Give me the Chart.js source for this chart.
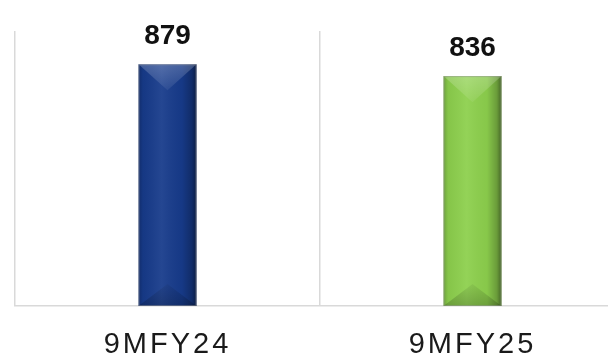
<!DOCTYPE html>
<html lang="en">
<head>
    <meta charset="UTF-8">
    <title>9MFY24 vs 9MFY25</title>
    <script src="https://cdn.jsdelivr.net/npm/chart.js@4.4.1/dist/chart.umd.min.js"></script>
    <style>
        * {
            margin: 0;
            padding: 0;
            box-sizing: border-box;
        }

        html, body {
            width: 608px;
            height: 357px;
            overflow: hidden;
            background: #ffffff;
        }

        /* the plot runs a little past the right edge, like the original slide */
        .chart-wrapper {
            position: relative;
            width: 626px;
            height: 357px;
        }
    </style>
</head>
<body>
    <div class="chart-wrapper">
        <canvas id="periodChart"></canvas>
    </div>

    <script>
        // data
        const periods = ['9MFY24', '9MFY25'];
        const values = [879, 836];
        const barColors = ['#173b8b', '#8dd04d'];

        const axisGrey = '#d9d9d9';

        // bevel shading on top of each bar (lit top, dark bottom, rounded sides)
        const bevelPlugin = {
            id: 'bevel',
            afterDatasetsDraw(chart) {
                const ctx = chart.ctx;
                chart.getDatasetMeta(0).data.forEach((bar) => {
                    const w = bar.width;
                    const left = bar.x - w / 2;
                    const right = bar.x + w / 2;
                    const top = bar.y;
                    const bottom = bar.base;

                    ctx.save();

                    const side = ctx.createLinearGradient(left, 0, right, 0);
                    side.addColorStop(0, 'rgba(0,0,0,0.22)');
                    side.addColorStop(0.08, 'rgba(0,0,0,0.05)');
                    side.addColorStop(0.4, 'rgba(255,255,255,0.06)');
                    side.addColorStop(0.75, 'rgba(0,0,0,0.04)');
                    side.addColorStop(0.92, 'rgba(0,0,0,0.25)');
                    side.addColorStop(1, 'rgba(0,0,0,0.5)');
                    ctx.fillStyle = side;
                    ctx.fillRect(left, top, w, bottom - top);

                    // top facet
                    const d = w * 0.45;
                    const lit = ctx.createLinearGradient(0, top, 0, top + d);
                    lit.addColorStop(0, 'rgba(255,255,255,0.22)');
                    lit.addColorStop(1, 'rgba(255,255,255,0.06)');
                    ctx.beginPath();
                    ctx.moveTo(left, top);
                    ctx.lineTo(right, top);
                    ctx.lineTo(bar.x, top + d);
                    ctx.closePath();
                    ctx.fillStyle = lit;
                    ctx.fill();

                    // bottom facet
                    const d2 = w * 0.38;
                    const dark = ctx.createLinearGradient(0, bottom - d2, 0, bottom);
                    dark.addColorStop(0, 'rgba(0,0,0,0.05)');
                    dark.addColorStop(1, 'rgba(0,0,0,0.2)');
                    ctx.beginPath();
                    ctx.moveTo(left, bottom);
                    ctx.lineTo(right, bottom);
                    ctx.lineTo(bar.x, bottom - d2);
                    ctx.closePath();
                    ctx.fillStyle = dark;
                    ctx.fill();

                    // thin outline
                    ctx.strokeStyle = 'rgba(150,150,150,0.5)';
                    ctx.lineWidth = 1;
                    ctx.strokeRect(left + 0.5, top + 0.5, w - 1, bottom - top - 1);

                    ctx.restore();
                });
            }
        };

        // value labels above bars
        const valueLabels = {
            id: 'valueLabels',
            afterDatasetsDraw(chart) {
                const ctx = chart.ctx;
                const ds = chart.data.datasets[0];
                ctx.save();
                ctx.letterSpacing = '0px';
                ctx.font = 'bold 28px "Liberation Sans", Arial, sans-serif';
                ctx.fillStyle = '#111111';
                ctx.textAlign = 'center';
                ctx.textBaseline = 'alphabetic';
                chart.getDatasetMeta(0).data.forEach((bar, i) => {
                    ctx.fillText(String(ds.data[i]), bar.x, bar.y - 20);
                });
                ctx.restore();
            }
        };

        // spaced-out category labels
        const tickSpacing = {
            id: 'tickSpacing',
            beforeDraw(chart) {
                chart.ctx.letterSpacing = '3px';
            },
            beforeDatasetsDraw(chart) {
                chart.ctx.letterSpacing = '0px';
            }
        };

        const config = {
            type: 'bar',
            data: {
                labels: periods,
                datasets: [{
                    data: values,
                    backgroundColor: barColors,
                    borderWidth: 0,
                    barPercentage: 0.19,
                    categoryPercentage: 1
                }]
            },
            options: {
                responsive: true,
                maintainAspectRatio: false,
                animation: false,
                events: [],
                layout: {
                    padding: { left: 15, top: 31, right: 1, bottom: 0 }
                },
                plugins: {
                    legend: { display: false },
                    tooltip: { enabled: false }
                },
                scales: {
                    x: {
                        grid: {
                            display: true,
                            offset: true,
                            drawTicks: false,
                            color: axisGrey,
                            lineWidth: 1.5
                        },
                        border: {
                            display: true,
                            color: axisGrey,
                            width: 1.5
                        },
                        ticks: {
                            color: '#1a1a1a',
                            padding: 22,
                            font: {
                                family: '"Liberation Sans", Arial, sans-serif',
                                size: 29
                            }
                        },
                        afterFit(scale) {
                            scale.height = 51;
                        }
                    },
                    y: {
                        display: false,
                        min: 0,
                        max: 1000
                    }
                }
            },
            plugins: [tickSpacing, bevelPlugin, valueLabels]
        };

        const chart = new Chart(document.getElementById('periodChart'), config);
    </script>
</body>
</html>
